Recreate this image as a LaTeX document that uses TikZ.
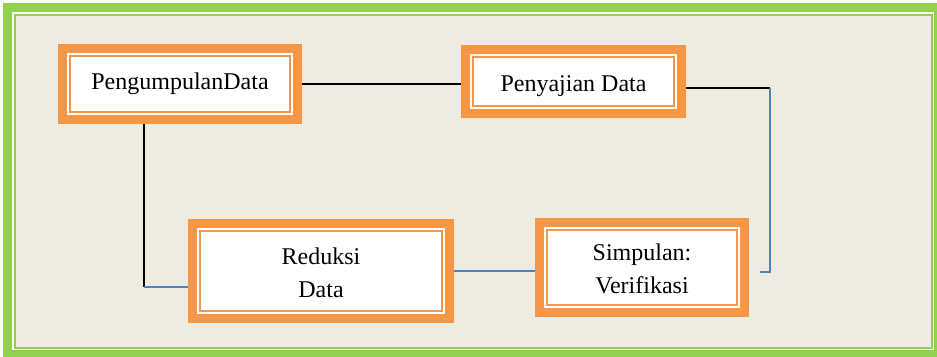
\documentclass[tikz,border=0pt]{standalone}
\usepackage{xcolor}
\usepackage{fontspec}
\setmainfont{Liberation Serif}
\usetikzlibrary{calc}

\definecolor{boxorange}{HTML}{F79646}
\definecolor{linkblue}{HTML}{4F81BD}
\definecolor{framegreen}{HTML}{92D050}
\definecolor{paper}{HTML}{EEECE1}

% text set a little lower inside its box
\newcommand{\lowered}[1]{\raisebox{-1.5pt}[\height][\depth]{\begin{tabular}{@{}c@{}}#1\end{tabular}}}

\begin{document}
\begin{tikzpicture}[x=0.5pt, y=-0.5pt,
    box/.style={draw=boxorange, line width=4.5pt, fill=white,
        inner sep=0pt, font=\fontsize{12}{16.5}\selectfont},
    link/.style={line width=0.75pt, black},
    bluelink/.style={line width=0.75pt, linkblue}]
    \useasboundingbox (0,0) rectangle (937,357);
    \clip (0,0) rectangle (937,357);
    \fill[white] (0,0) rectangle (937,357);

    % frame
    \draw[framegreen, line width=4.5pt] (7.5,7.5) rectangle (938.5,354.5);
    \fill[paper] (15,15) rectangle (932,348);
    \draw[framegreen, line width=1pt] (15,15) rectangle (932,348);

    % boxes
    \node[box, minimum width=117.5pt, minimum height=35.5pt] (pd) at (180,84) {PengumpulanData};
    \node[box, minimum width=108pt, minimum height=32pt] (sd) at (573.5,81.5) {\lowered{Penyajian Data}};
    \node[box, minimum width=128.5pt, minimum height=47.5pt] (rd) at (321,271) {\lowered{Reduksi\\Data}};
    \node[box, minimum width=102.5pt, minimum height=45pt] (sv) at (642,267.5) {\lowered{Simpulan:\\Verifikasi}};

    % inner thin border of each box
    \foreach \n in {pd,sd,rd,sv}{
        \draw[draw=boxorange, line width=1pt] ($(\n.south west)+(6pt,6pt)$) rectangle ($(\n.north east)+(-6pt,-6pt)$);
    }

    % connectors
    \coordinate (c1) at (770,88);
    \coordinate (c2) at (770,272);
    \coordinate (c3) at (144,287);
    \draw[link] (pd.east) -- (pd.east -| sd.west);
    \draw[link] (sd.east |- c1) -- (c1);
    \draw[bluelink] (c1) -- (c2) -- ([xshift=5.5pt]c2 -| sv.east);
    \draw[link] (pd.south -| c3) -- (c3);
    \draw[bluelink] (c3) -- (c3 -| rd.west);
    \draw[bluelink] (rd.east) -- (rd.east -| sv.west);
\end{tikzpicture}
\end{document}
